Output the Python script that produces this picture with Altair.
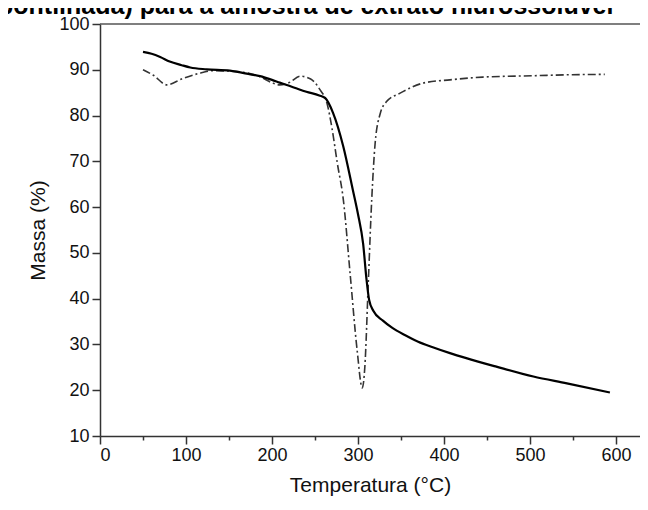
import altair as alt
import pandas as pd

# TG curve (solid)
tg_temp = [50, 60, 70, 81, 95, 105, 124, 151, 175, 186, 200, 209, 220, 229, 240, 255, 262, 271, 283,
           294, 300, 306, 310, 313, 318, 329, 340, 355, 370, 387, 407, 426, 460, 504, 543, 593]
tg_mass = [93.9, 93.5, 92.8, 91.8, 91.0, 90.5, 90.1, 89.8, 89.0, 88.6, 87.8, 87.2, 86.5, 85.9, 85.2, 84.4, 83.8, 80.6, 73.2,
           63.8, 58.5, 52.0, 44.1, 39.7, 37.3, 35.2, 33.6, 32.0, 30.6, 29.4, 28.1, 27.0, 25.2, 23.0, 21.5, 19.5]

# DTG curve (dash-dot)
dtg_temp = [50, 62, 78, 95, 115, 132, 160, 186, 201, 209, 220, 233, 245, 256, 264, 270, 276, 283, 291,
            299, 305, 308, 312, 316, 320, 326, 333, 349, 376, 407, 445, 504, 543, 587]
dtg_val = [90.0, 88.8, 86.7, 88.0, 89.2, 89.8, 89.6, 88.5, 87.1, 86.7, 87.2, 88.6, 88.0, 85.6, 82.7, 77.0, 69.6, 61.6, 45.2,
           28.8, 20.5, 25.1, 43.4, 61.6, 74.0, 80.5, 83.0, 84.9, 87.1, 87.8, 88.4, 88.7, 88.9, 89.0]

x_all = [0, 50, 100, 150, 200, 250, 300, 350, 400, 450, 500, 550, 600]
y_all = list(range(10, 101, 5))

title_text = "pontilhada) para a amostra de extrato hidrossolúvel"

tg = pd.DataFrame({"t": tg_temp, "m": tg_mass})
dtg = pd.DataFrame({"t": dtg_temp, "m": dtg_val})

W, H = 540, 412
xscale = alt.Scale(domain=[0, 628], nice=False, zero=False)
yscale = alt.Scale(domain=[10, 100], nice=False, zero=False)

xaxis = alt.Axis(
    values=x_all,
    labelExpr="datum.value % 100 === 0 ? datum.label : ''",
    tickSize={"condition": {"test": "datum.value % 100 === 0", "value": 8}, "value": 4},
    grid=False, domainColor="#333", tickColor="#333", domainWidth=1.5, tickWidth=1.5,
    labelFont="Liberation Sans", labelFontSize=18, labelColor="#111", labelPadding=2,
    title="Temperatura (°C)", titleFont="Liberation Sans", titleFontSize=21,
    titleFontWeight="normal", titleColor="#111", titlePadding=10,
)
yaxis = alt.Axis(
    values=y_all,
    labelExpr="datum.value % 10 === 0 ? datum.label : ''",
    tickSize={"condition": {"test": "datum.value % 10 === 0", "value": 8}, "value": 4},
    grid=False, domainColor="#333", tickColor="#333", domainWidth=1.5, tickWidth=1.5,
    labelFont="Liberation Sans", labelFontSize=18, labelColor="#111", labelPadding=3,
    title="Massa (%)", titleFont="Liberation Sans", titleFontSize=21,
    titleFontWeight="normal", titleColor="#111", titlePadding=10,
)

solid = alt.Chart(tg).mark_line(color="black", strokeWidth=2.2, interpolate="monotone").encode(
    x=alt.X("t:Q", scale=xscale, axis=xaxis),
    y=alt.Y("m:Q", scale=yscale, axis=yaxis),
)
dashed = alt.Chart(dtg).mark_line(color="#333", strokeWidth=1.6, strokeDash=[8, 3, 2, 3],
                                  interpolate="monotone").encode(
    x=alt.X("t:Q", scale=xscale),
    y=alt.Y("m:Q", scale=yscale),
)
top = alt.Chart(pd.DataFrame({"a": [0]})).mark_rule(color="#555", strokeWidth=1.5).encode(
    x=alt.value(0), x2=alt.value(W), y=alt.value(0)
)
title = alt.Chart(pd.DataFrame({"s": [title_text]})).mark_text(
    align="left", baseline="alphabetic", font="Liberation Sans", fontSize=25,
    fontWeight="bold", color="black"
).encode(x=alt.value(-102), y=alt.value(-10), text="s:N")

chart = alt.layer(top, dashed, solid, title).properties(
    width=W, height=H,
    autosize=alt.AutoSizeParams(type="none"),
    padding={"left": 92, "top": 16, "right": 0, "bottom": 64},
).configure_view(stroke=None)

chart.save("out.html", embed_options={"renderer": "svg", "actions": False})
